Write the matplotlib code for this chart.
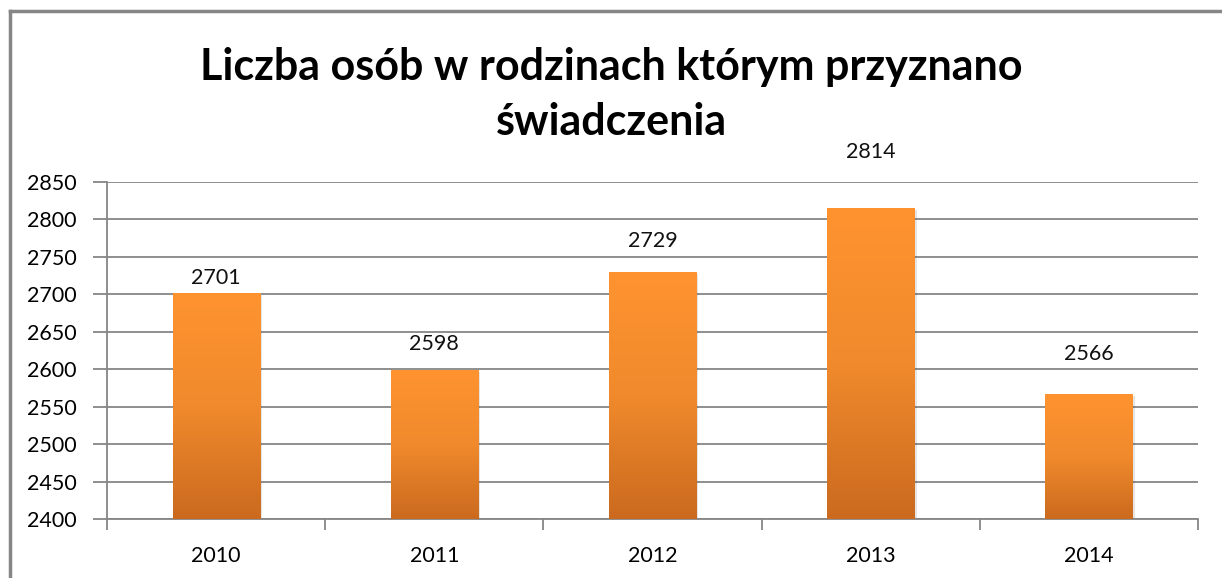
import matplotlib
matplotlib.use('Agg')
import matplotlib.pyplot as plt
import numpy as np
from matplotlib.colors import LinearSegmentedColormap

years = ['2010', '2011', '2012', '2013', '2014']
values = [2701, 2598, 2729, 2814, 2566]
# where the value labels sit in the reference (data units)
label_y = [2722, 2633, 2771, 2889, 2620]
yticks = list(range(2400, 2851, 50))

title = 'Liczba osób w rodzinach którym przyznano\nświadczenia'

plt.rcParams['font.family'] = ['Lato', 'DejaVu Sans']

fig = plt.figure(figsize=(12.22, 5.78), dpi=100)
ax = fig.add_axes([0.0876, 0.1016, 0.8928, 0.584])

grey = '#868686'
x = np.arange(len(years))
bars = ax.bar(x, values, width=0.4, bottom=0, color='none', zorder=3)

# vertical orange gradient in each bar
grad = LinearSegmentedColormap.from_list('og', ['#cb6a1f', '#f08a2c', '#ff9330'])
g = np.linspace(0, 1, 256).reshape(-1, 1)
for b in bars:
    x0, w, h = b.get_x(), b.get_width(), b.get_height()
    # faint shadow
    ax.bar(x0 + w / 2 + 0.008, h - 2400, bottom=2400 - 2, width=w + 0.004,
           color='#000000', alpha=0.10, zorder=2)
    ax.imshow(g, cmap=grad, origin='lower', aspect='auto',
              extent=(x0, x0 + w, 2400, h), zorder=3)

for xi, v, ly in zip(x, values, label_y):
    ax.text(xi, ly, str(v), ha='center', va='center', fontsize=15.5, color='#111111')

ax.set_xlim(-0.5, len(years) - 0.5)
ax.set_ylim(2400, 2850)
ax.set_yticks(yticks)
ax.set_yticklabels([str(t) for t in yticks], fontsize=15.5)
ax.yaxis.grid(True, color=grey, linewidth=1.3, zorder=1)
ax.set_axisbelow(True)

ax.set_xticks(x)
ax.set_xticklabels(years, fontsize=15.5)
ax.set_xticks(np.arange(-0.5, len(years)), minor=True)
ax.tick_params(axis='x', which='major', length=0, pad=19)
ax.tick_params(axis='x', which='minor', length=8, width=1.3, color=grey, direction='out')
ax.tick_params(axis='y', length=10, width=1.3, color=grey, direction='out', pad=12)

for s in ['top', 'right']:
    ax.spines[s].set_visible(False)
for s in ['left', 'bottom']:
    ax.spines[s].set_color(grey)
    ax.spines[s].set_linewidth(1.3)

fig.text(0.5, 0.837, title, ha='center', va='center', fontsize=31,
         fontweight='bold', linespacing=1.45)

# outer chart frame (top and left edge visible)
fig.add_artist(plt.Line2D([0.0085, 0.0085], [0, 0.981], color=grey, linewidth=2.5,
                          transform=fig.transFigure))
fig.add_artist(plt.Line2D([0.0085, 1], [0.981, 0.981], color=grey, linewidth=2.5,
                          transform=fig.transFigure))

fig.savefig('out.png', dpi=100)
